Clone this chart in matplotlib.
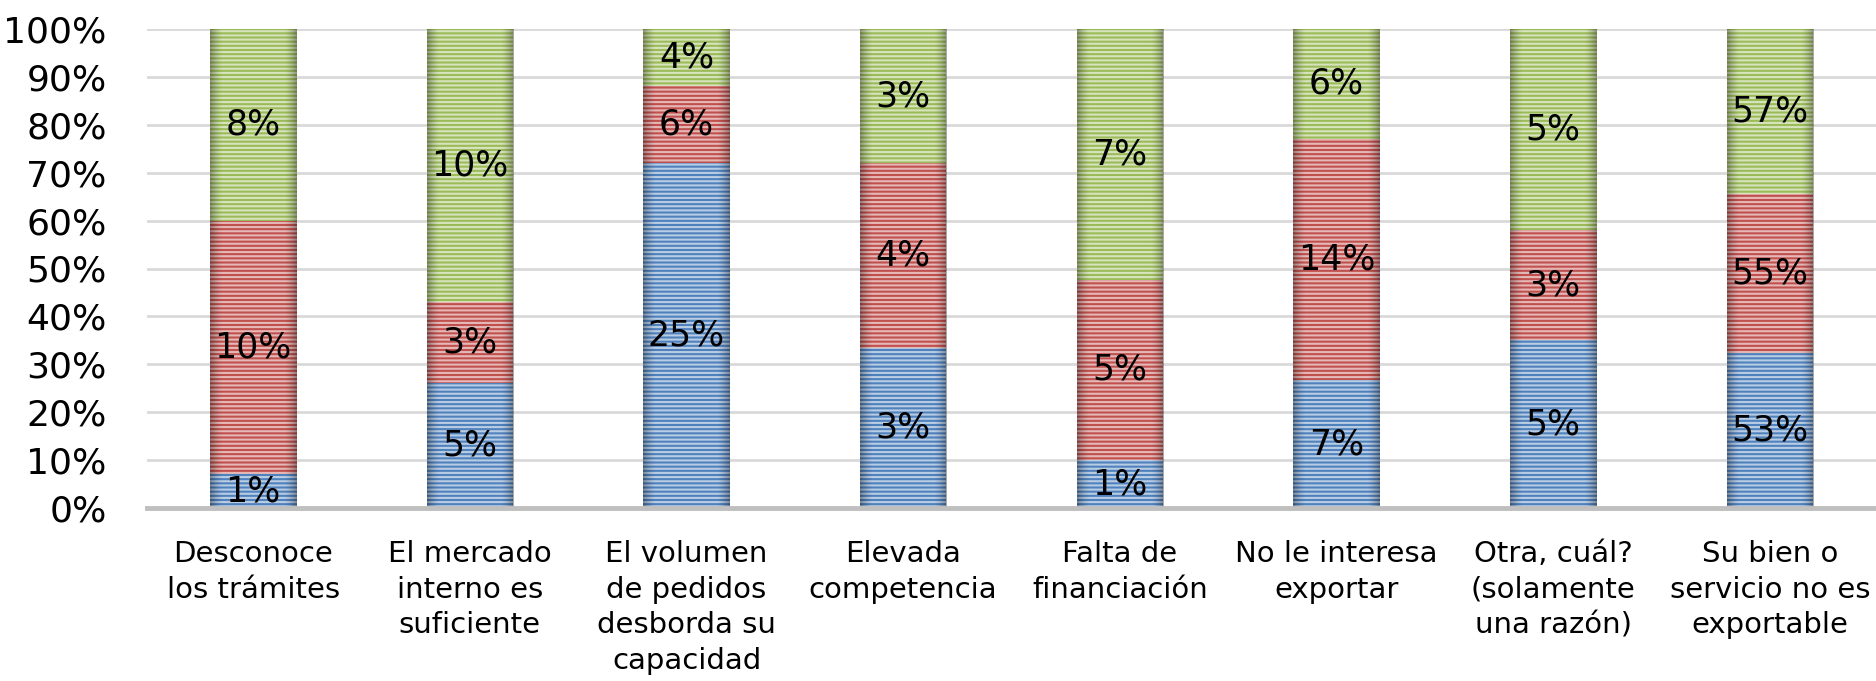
import numpy as np
import matplotlib
matplotlib.use("Agg")
import matplotlib.pyplot as plt

plt.rcParams['font.family'] = ['DejaVu Sans']
plt.rcParams['hatch.linewidth'] = 1.5

categorias = ["Desconoce\nlos trámites", "El mercado\ninterno es\nsuficiente",
              "El volumen\nde pedidos\ndesborda su\ncapacidad", "Elevada\ncompetencia",
              "Falta de\nfinanciación", "No le interesa\nexportar",
              "Otra, cuál?\n(solamente\nuna razón)", "Su bien o\nservicio no es\nexportable"]

# porcentajes de cada serie (etiquetas), las barras se normalizan al 100%
serie_azul = [1.37, 4.7, 25.2, 3.35, 1.3, 7.2, 4.55, 53.4]
serie_roja = [10.3, 3.06, 5.6, 3.85, 4.9, 13.6, 2.99, 54.6]
serie_verde = [7.8, 10.26, 4.2, 2.8, 6.8, 6.2, 5.46, 57.0]

colores = ["#4F81BD", "#C0504D", "#9BBB59"]

datos = np.array([serie_azul, serie_roja, serie_verde])
frac = datos / datos.sum(axis=0) * 100

fig = plt.figure(figsize=(18.76, 6.81), dpi=100)
ax = fig.add_axes([147/1876, 1 - 508/681, 1 - 147/1876, (508 - 29)/681])

x = np.arange(len(categorias))
ancho = 0.40
abajo = np.zeros(len(categorias))
for i in range(3):
    ax.bar(x, frac[i], ancho, bottom=abajo, color=colores[i],
           edgecolor=(1, 1, 1, 0.6), hatch='----', linewidth=0, zorder=3)
    for j in range(len(categorias)):
        ax.text(x[j], abajo[j] + frac[i][j] / 2, "%d%%" % round(datos[i][j]),
                ha='center', va='center', fontsize=25, color='black', zorder=6)
    abajo += frac[i]

# sombra en los bordes de cada barra
t = np.linspace(-1, 1, 200)
a = np.clip((np.abs(t) - 0.7) / 0.3, 0, 1) ** 1.5 * 0.35
sombra = np.zeros((1, 200, 4))
sombra[0, :, 3] = a
for j in range(len(categorias)):
    ax.imshow(sombra, extent=[x[j] - ancho / 2, x[j] + ancho / 2, 0, 100],
              aspect='auto', zorder=4, interpolation='bilinear')

ax.set_xlim(-0.49, 7.49)
ax.set_ylim(0, 100)
ax.set_yticks(np.arange(0, 101, 10))
ax.set_yticklabels(["%d%%" % v for v in range(0, 101, 10)], fontsize=26)
ax.set_xticks(x)
ax.set_xticklabels(categorias, fontsize=21, linespacing=1.35)
ax.tick_params(axis='both', length=0)
ax.tick_params(axis='x', pad=23)
ax.tick_params(axis='y', pad=29)
ax.grid(axis='y', color='#D9D9D9', linewidth=2, zorder=0)
for s in ['left', 'right', 'top']:
    ax.spines[s].set_visible(False)
ax.spines['bottom'].set_color('#BFBFBF')
ax.spines['bottom'].set_linewidth(3.5)
ax.spines['bottom'].set_zorder(5)

fig.savefig("out.png", dpi=100)
